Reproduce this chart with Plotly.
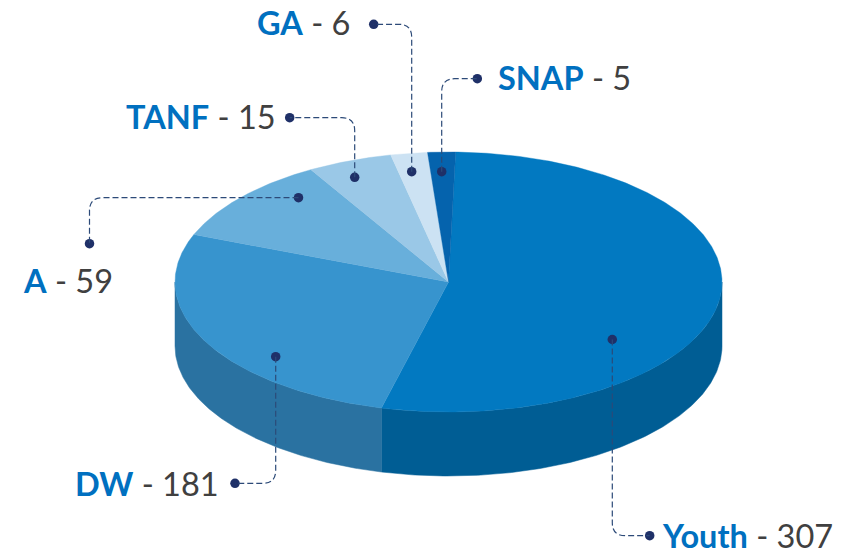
import numpy as np
import plotly.graph_objects as go

categories = ["Youth", "DW", "A", "TANF", "GA", "SNAP"]
values = [307, 181, 59, 15, 6, 5]
# The drawn wedges in the picture are not proportional to the labels,
# so the sweep of each wedge (degrees) is read from the picture.
sweep_deg = [192.7, 97.2, 38.4, 18.0, 7.8, 5.9]
top_colors = ["#0279c1", "#3794ce", "#68afdb", "#9ac8e7", "#cce2f3", "#0563ad"]
side_colors = ["#005d94", "#2a72a1", "#2a72a1", "#2a72a1", "#2a72a1", "#2a72a1"]
start_deg = 1.5

CX, CY, RX, RY, DEPTH = 448.5, 282.0, 273.5, 130.0, 64.0
BLUE, DARK, NAVY = "#0070c0", "#404040", "#1f3068"

label_pos = [(661, 535), (74, 483), (22, 280), (125, 116), (256, 22), (497, 77)]
# anchor, end, corner point of each leader
leaders = [
    ((612.3, 339.5), (649.7, 535.7), (612.3, 535.7)),
    ((275.7, 356.7), (235.0, 483.3), (275.7, 483.3)),
    ((298.5, 197.7), (89.5, 243.7), (89.5, 197.7)),
    ((354.7, 177.3), (289.7, 117.7), (354.7, 117.7)),
    ((411.7, 171.7), (373.7, 24.3), (411.7, 24.3)),
    ((441.7, 171.7), (477.3, 78.7), (441.7, 78.7)),
]


def ell(t_deg, cy=CY):
    t = np.radians(t_deg)
    return CX + RX * np.sin(t), cy - RY * np.cos(t)


fig = go.Figure()
edges = start_deg + np.concatenate([[0], np.cumsum(sweep_deg)])

# Side walls (only the front half of the ellipse is visible)
for i, name in enumerate(categories):
    a, b = max(edges[i], 90), min(edges[i + 1], 270)
    if a >= b:
        continue
    t = np.linspace(a, b, 160)
    x1, y1 = ell(t)
    x2, y2 = ell(t[::-1], CY + DEPTH)
    fig.add_trace(go.Scatter(
        x=np.r_[x1, x2, x1[0]], y=np.r_[y1, y2, y1[0]], mode="lines",
        fill="toself", fillcolor=side_colors[i],
        line=dict(width=0.5, color=side_colors[i]), hoverinfo="skip"))

# Top faces
for i, name in enumerate(categories):
    t = np.linspace(edges[i], edges[i + 1], max(8, int(sweep_deg[i] * 2)))
    x, y = ell(t)
    fig.add_trace(go.Scatter(
        x=np.r_[CX, x, CX], y=np.r_[CY, y, CY], mode="lines",
        fill="toself", fillcolor=top_colors[i],
        line=dict(width=0.4, color=top_colors[i]),
        name=name, text=f"{name} - {values[i]}", hoverinfo="text"))

# Leader lines with rounded corners
shapes = []
R = 13.0
for p, q, c in leaders:
    p, q, c = map(np.array, (p, q, c))
    u = (p - c) / np.linalg.norm(p - c)
    v = (q - c) / np.linalg.norm(q - c)
    s, e = c + u * R, c + v * R
    path = f"M{p[0]},{p[1]} L{s[0]},{s[1]} Q{c[0]},{c[1]} {e[0]},{e[1]} L{q[0]},{q[1]}"
    shapes.append(dict(type="path", path=path, xref="x", yref="y",
                       line=dict(color="#2c4a78", width=1.2, dash="6px,3px")))

dots = [pt for leader in leaders for pt in leader[:2]]
fig.add_trace(go.Scatter(
    x=[d[0] for d in dots], y=[d[1] for d in dots], mode="markers",
    marker=dict(size=9.5, color=NAVY), hoverinfo="skip"))

annotations = [
    dict(x=px, y=py, xref="x", yref="y", xanchor="left", yanchor="middle",
         showarrow=False, align="left", borderpad=0,
         text=f'<b><span style="color:{BLUE}">{n}</span></b> - {v}',
         font=dict(family="Lato, 'Open Sans', sans-serif", size=32.5, color=DARK))
    for n, v, (px, py) in zip(categories, values, label_pos)
]

fig.update_layout(
    width=856, height=551, margin=dict(l=0, r=0, t=0, b=0),
    paper_bgcolor="white", plot_bgcolor="white", showlegend=False,
    xaxis=dict(range=[0, 856], visible=False, fixedrange=True),
    yaxis=dict(range=[551, 0], visible=False, fixedrange=True),
    shapes=shapes, annotations=annotations,
)
fig.write_html("out.html", config=dict(displayModeBar=False),
               post_script="document.body.style.margin='0';document.documentElement.style.overflow='hidden';")
